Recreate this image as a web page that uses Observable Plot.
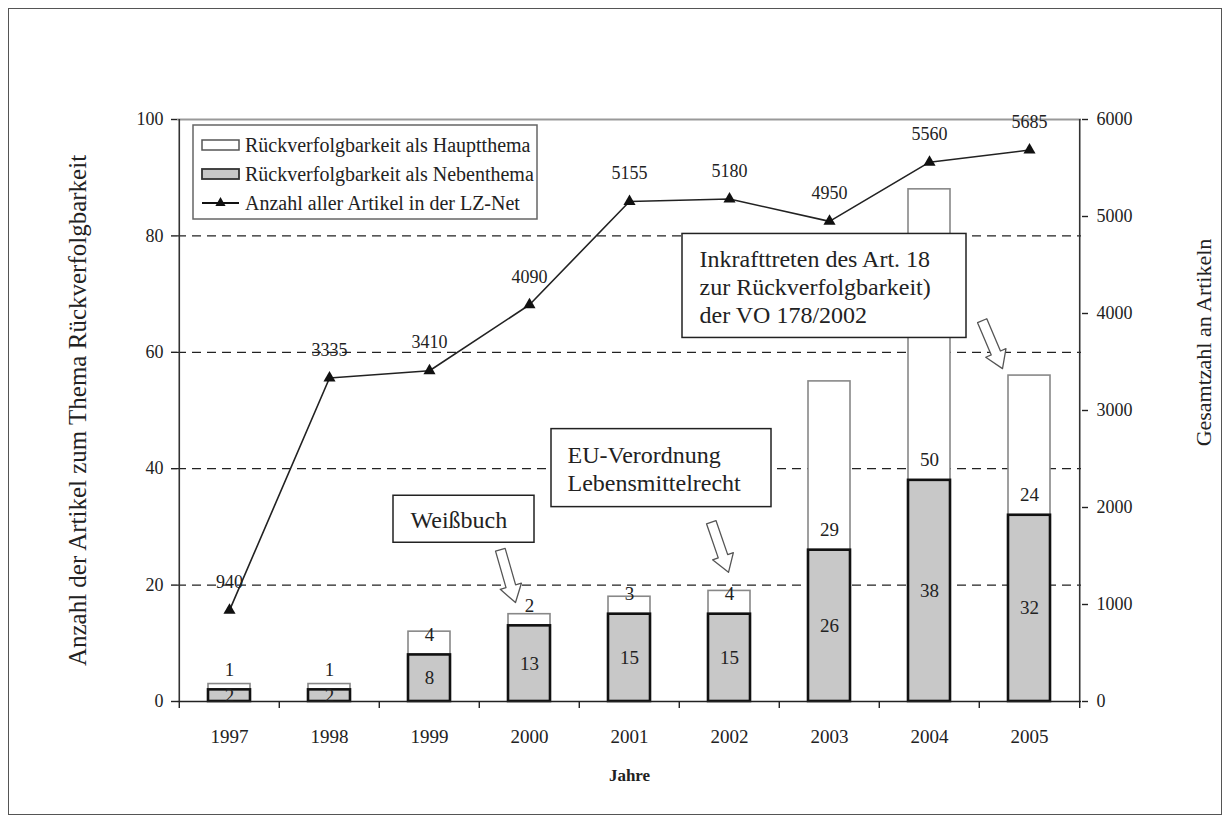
<!DOCTYPE html>
<html><head><meta charset="utf-8">
<script src="https://cdn.jsdelivr.net/npm/d3@7"></script>
<script src="https://cdn.jsdelivr.net/npm/@observablehq/plot@0.6"></script>
<style>
body{margin:0;background:#fff;}
#frame{position:absolute;left:8px;top:8px;width:1212px;height:805px;border:1px solid #555;background:#fff;}
#frame svg, #frame svg text{font-family:"Liberation Serif","Times New Roman",serif !important;}
</style></head><body><div id="frame"></div>
<script>
// ---- data ----
const years = ["1997","1998","1999","2000","2001","2002","2003","2004","2005"];
const nebenthema = [2, 2, 8, 13, 15, 15, 26, 38, 32];
const hauptthema = [1, 1, 4, 2, 3, 4, 29, 50, 24];
const gesamt = [940, 3335, 3410, 4090, 5155, 5180, 4950, 5560, 5685];
const leftTicks = [0, 20, 40, 60, 80, 100];
const rightTicks = [0, 1000, 2000, 3000, 4000, 5000, 6000];
const gridValues = [20, 40, 60, 80];
const seriesNames = ["Rückverfolgbarkeit als Hauptthema", "Rückverfolgbarkeit als Nebenthema", "Anzahl aller Artikel in der LZ-Net"];
const leftTitle = "Anzahl der Artikel zum Thema Rückverfolgbarkeit";
const rightTitle = "Gesamtzahl an Artikeln";
const xTitle = "Jahre";
const annotationTexts = ["Weißbuch", "EU-Verordnung\nLebensmittelrecht", "Inkrafttreten des Art. 18\nzur Rückverfolgbarkeit)\nder VO 178/2002"];
const annotationYears = ["1999", "2001", "2003"];
const annotationValues = [31.4, 40.1, 71.4];
const arrowYears = ["2000", "2002", "2005"];
const arrowValues = [17, 22.2, 57.2];

// ---- layout (pixels) ----
const annotationLayout = [
  {dx: -19, box: [-17, -23, 141, 47]},
  {dx: -62, box: [-16, -39, 220, 78]},
  {dx: -130, box: [-17, -52, 284, 104]}
];
const arrowLayout = [
  {dx: -14, angle: 164, length: 55},
  {dx: -1, angle: 161, length: 53},
  {dx: -27, angle: 157, length: 52}
];

const leftMax = leftTicks[leftTicks.length - 1];
const rightMax = rightTicks[rightTicks.length - 1];
const toLeft = v => v * leftMax / rightMax;

const rows = years.map((year, i) => ({year, neben: nebenthema[i], haupt: hauptthema[i], gesamt: gesamt[i]}));
const annotations = annotationTexts.map((text, i) => ({text, year: annotationYears[i], value: annotationValues[i], ...annotationLayout[i]}));
const arrows = arrowYears.map((year, i) => ({year, value: arrowValues[i], ...arrowLayout[i]}));

const W = 1212, H = 805, mL = 168, mR = 140, mT = 110, mB = 113;
const step = (W - mL - mR) / years.length;
const pxPerUnit = (H - mT - mB) / leftMax;
const FONT = "Liberation Serif, Times New Roman, serif";
const INK = "#222";

const hollowArrow = {
  draw(ctx, l) {
    const w = 5, h = 11, hl = 17;
    ctx.moveTo(-w, 0); ctx.lineTo(-w, -(l - hl)); ctx.lineTo(-h, -(l - hl)); ctx.lineTo(0, -l);
    ctx.lineTo(h, -(l - hl)); ctx.lineTo(w, -(l - hl)); ctx.lineTo(w, 0); ctx.closePath();
  }
};

function bandInfo(sx) {
  return typeof sx.bandwidth === "function" ? sx.bandwidth() : (sx.bandwidth || 0);
}

// boxes behind annotation texts
function annotationBoxes(index, scales) {
  const sx = scales.x, sy = scales.y;
  const bw = bandInfo(sx);
  const g = d3.create("svg:g");
  annotations.forEach(a => {
    const x0 = sx(a.year) + bw / 2 + a.dx;
    const y0 = sy(a.value);
    g.append("rect")
      .attr("x", x0 + a.box[0]).attr("y", y0 + a.box[1])
      .attr("width", a.box[2]).attr("height", a.box[3])
      .attr("fill", "white").attr("stroke", "#222").attr("stroke-width", 1.5);
  });
  return g.node();
}

// legend inside the plot
function legendMark(index, scales, values, dims) {
  const x0 = dims.marginLeft + 16, y0 = dims.marginTop + 6;
  const g = d3.create("svg:g").attr("font-family", FONT).attr("font-size", 20).attr("fill", INK).attr("text-anchor", "start");
  g.append("rect").attr("x", x0).attr("y", y0).attr("width", 344).attr("height", 94)
    .attr("fill", "white").attr("stroke", "#666").attr("stroke-width", 1.5);
  const rowsY = [20, 49, 78];
  seriesNames.forEach((name, i) => {
    const cy = y0 + rowsY[i];
    if (i === 0) g.append("rect").attr("x", x0 + 9).attr("y", cy - 5).attr("width", 37).attr("height", 10).attr("fill", "white").attr("stroke", "#555").attr("stroke-width", 1.5);
    if (i === 1) g.append("rect").attr("x", x0 + 9).attr("y", cy - 5).attr("width", 37).attr("height", 10).attr("fill", "#c8c8c8").attr("stroke", "#333").attr("stroke-width", 1.8);
    if (i === 2) {
      g.append("line").attr("x1", x0 + 9).attr("x2", x0 + 46).attr("y1", cy).attr("y2", cy).attr("stroke", "#111").attr("stroke-width", 2);
      g.append("path").attr("d", d3.symbol(d3.symbolTriangle, 45)()).attr("transform", `translate(${x0 + 27.5},${cy})`).attr("fill", "#111");
    }
    g.append("text").attr("x", x0 + 52).attr("y", cy).attr("dy", "0.35em").attr("text-anchor", "start").text(name);
  });
  return g.node();
}

const chart = Plot.plot({
  width: W, height: H,
  marginLeft: mL, marginRight: mR, marginTop: mT, marginBottom: mB,
  style: {fontFamily: FONT, fontSize: "18px", color: INK, background: "transparent", overflow: "visible"},
  x: {domain: years, paddingInner: 0.582, paddingOuter: 0.291, axis: null, label: null},
  y: {domain: [0, leftMax], axis: null, label: null},
  marks: [
    Plot.ruleY(gridValues, {stroke: "#222", strokeDasharray: "9,6", strokeWidth: 1.3}),
    Plot.ruleY([leftMax], {stroke: "#999", strokeWidth: 2}),
    Plot.barY(rows, {x: "year", y1: "neben", y2: d => d.neben + d.haupt, fill: "white", stroke: "#888", strokeWidth: 1.6}),
    Plot.barY(rows, {x: "year", y1: 0, y2: "neben", fill: "#c8c8c8", stroke: "#111", strokeWidth: 2.6}),
    Plot.ruleY([0], {stroke: "#222", strokeWidth: 1.6}),
    Plot.ruleX([years[0]], {y1: 0, y2: leftMax, dx: -step / 2, stroke: "#333", strokeWidth: 1.6}),
    Plot.ruleX([years[years.length - 1]], {y1: 0, y2: leftMax, dx: step / 2, stroke: "#333", strokeWidth: 1.6}),
    Plot.ruleX(years, {y1: 0, y2: -7 / pxPerUnit, dx: -step / 2, stroke: "#222", strokeWidth: 1.4}),
    Plot.ruleX([years[years.length - 1]], {y1: 0, y2: -7 / pxPerUnit, dx: step / 2, stroke: "#222", strokeWidth: 1.4}),
    Plot.axisY({anchor: "left", ticks: leftTicks, tickSize: 6, tickPadding: 8, label: null, stroke: "#222", strokeWidth: 1.4, fontSize: 18}),
    Plot.axisY({anchor: "right", ticks: rightTicks.map(toLeft), tickFormat: d => String(Math.round(d * rightMax / leftMax)), tickSize: 6, tickPadding: 9, label: null, stroke: "#222", strokeWidth: 1.4, fontSize: 18}),
    Plot.axisX({anchor: "bottom", tickSize: 0, tickPadding: 28, label: null, fontSize: 19}),
    Plot.text([xTitle], {frameAnchor: "bottom", dy: 79, fontWeight: "bold", fontSize: 17, fill: INK}),
    Plot.text([leftTitle], {frameAnchor: "left", textAnchor: "middle", rotate: -90, dx: -100, fontSize: 25, fill: INK}),
    Plot.text([rightTitle], {frameAnchor: "right", textAnchor: "middle", rotate: -90, dx: 122, dy: -68, fontSize: 22, fill: INK}),
    Plot.text(rows, {x: "year", y: d => d.neben / 2, text: d => String(d.neben), fontSize: 19, fill: INK}),
    Plot.text(rows, {x: "year", y: "neben", text: d => String(d.haupt), dy: -20, fontSize: 19, fill: INK}),
    Plot.line(rows, {x: "year", y: d => toLeft(d.gesamt), stroke: "#222", strokeWidth: 1.6}),
    Plot.dot(rows, {x: "year", y: d => toLeft(d.gesamt), symbol: "triangle", fill: "#111", r: 4.5}),
    Plot.text(rows, {x: "year", y: d => toLeft(d.gesamt), text: d => String(d.gesamt), dy: -28, fontSize: 18, fill: INK}),
    legendMark,
    annotationBoxes,
    ...annotations.map(a => Plot.text([a], {x: "year", y: "value", text: "text", dx: a.dx, textAnchor: "start", lineAnchor: "middle", lineHeight: 1.18, fontSize: 24, fill: INK})),
    ...arrows.map(a => Plot.vector([a], {x: "year", y: "value", dx: a.dx, rotate: a.angle, length: a.length, anchor: "end", shape: hollowArrow, fill: "white", stroke: "#555", strokeWidth: 1.3}))
  ]
});
document.getElementById("frame").appendChild(chart);
</script>
</body></html>
